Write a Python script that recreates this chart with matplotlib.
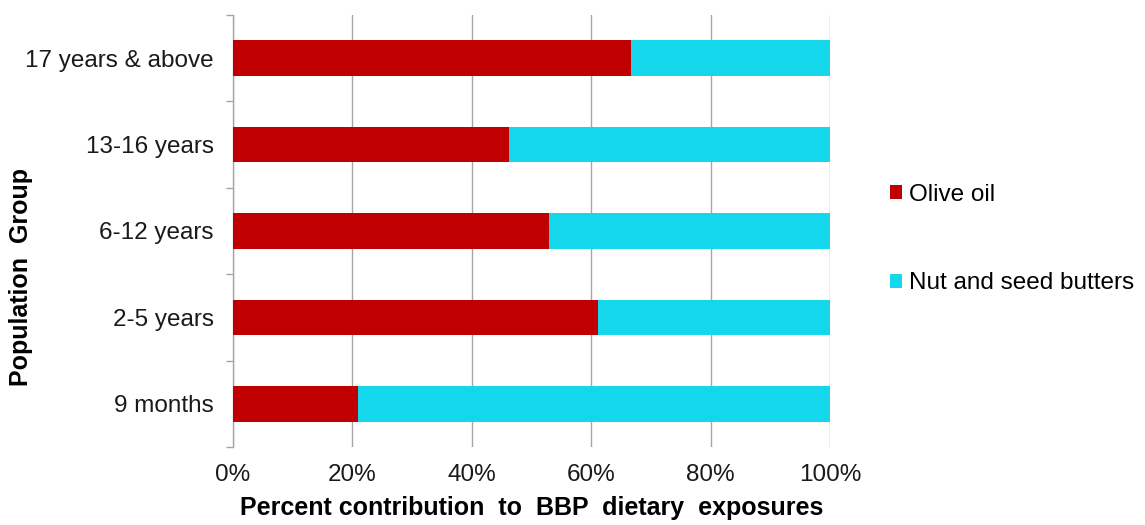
import matplotlib
matplotlib.use("Agg")
import matplotlib.pyplot as plt
from matplotlib.patches import Patch
from matplotlib.ticker import FixedLocator, PercentFormatter

plt.rcParams['font.family'] = ['Liberation Sans', 'DejaVu Sans']

groups = ["9 months", "2-5 years", "6-12 years", "13-16 years", "17 years & above"]
olive_oil = [20.9, 61.1, 52.9, 46.2, 66.6]
nut_seed_butters = [79.1, 38.9, 47.1, 53.8, 33.4]
series_names = ["Olive oil", "Nut and seed butters"]
x_ticks = [0, 20, 40, 60, 80, 100]

red = "#C00000"
cyan = "#14D7EC"

fig = plt.figure(figsize=(11.45, 5.25), dpi=100)
ax = fig.add_axes([233 / 1145, 78 / 525, 597 / 1145, 432 / 525])

y = list(range(len(groups)))
ax.barh(y, olive_oil, height=0.41, color=red, zorder=3)
ax.barh(y, nut_seed_butters, left=olive_oil, height=0.41, color=cyan, zorder=3)

ax.set_xlim(0, 100)
ax.set_ylim(-0.5, len(groups) - 0.5)
ax.xaxis.set_major_locator(FixedLocator(x_ticks))
ax.xaxis.set_major_formatter(PercentFormatter(decimals=0))
ax.grid(axis='x', color='#A6A6A6', linewidth=1.0, zorder=0)

ax.set_yticks(y)
ax.set_yticklabels(groups, fontsize=17.5)
ax.set_yticks([i - 0.5 for i in range(len(groups) + 1)], minor=True)
ax.tick_params(axis='y', which='major', length=0, pad=14)
ax.tick_params(axis='y', which='minor', length=5, color='#A6A6A6', width=1.0)
ax.tick_params(axis='x', length=0, labelsize=17.5, pad=12.5)
for lbl in ax.get_xticklabels() + ax.get_yticklabels():
    lbl.set_color('#1A1A1A')

for side in ('top', 'right', 'bottom'):
    ax.spines[side].set_visible(False)
ax.spines['left'].set_color('#A6A6A6')
ax.spines['left'].set_linewidth(1.0)

ax.set_xlabel("Percent contribution  to  BBP  dietary  exposures", fontsize=18,
              fontweight='bold', labelpad=7)
fig.text(21 / 1145, 1 - 277 / 525, "Population  Group", rotation=90, fontsize=18,
         fontweight='bold', ha='center', va='center')

handles = [Patch(facecolor=red, edgecolor='none'), Patch(facecolor=cyan, edgecolor='none')]
fig.legend(handles, series_names, loc='center left', bbox_to_anchor=(890 / 1145, 1 - 239 / 525),
           frameon=False, fontsize=17.5, handlelength=0.5, handleheight=0.5,
           handletextpad=0.3, labelspacing=2.75, borderpad=0, borderaxespad=0)

fig.savefig("out.png", dpi=100)
